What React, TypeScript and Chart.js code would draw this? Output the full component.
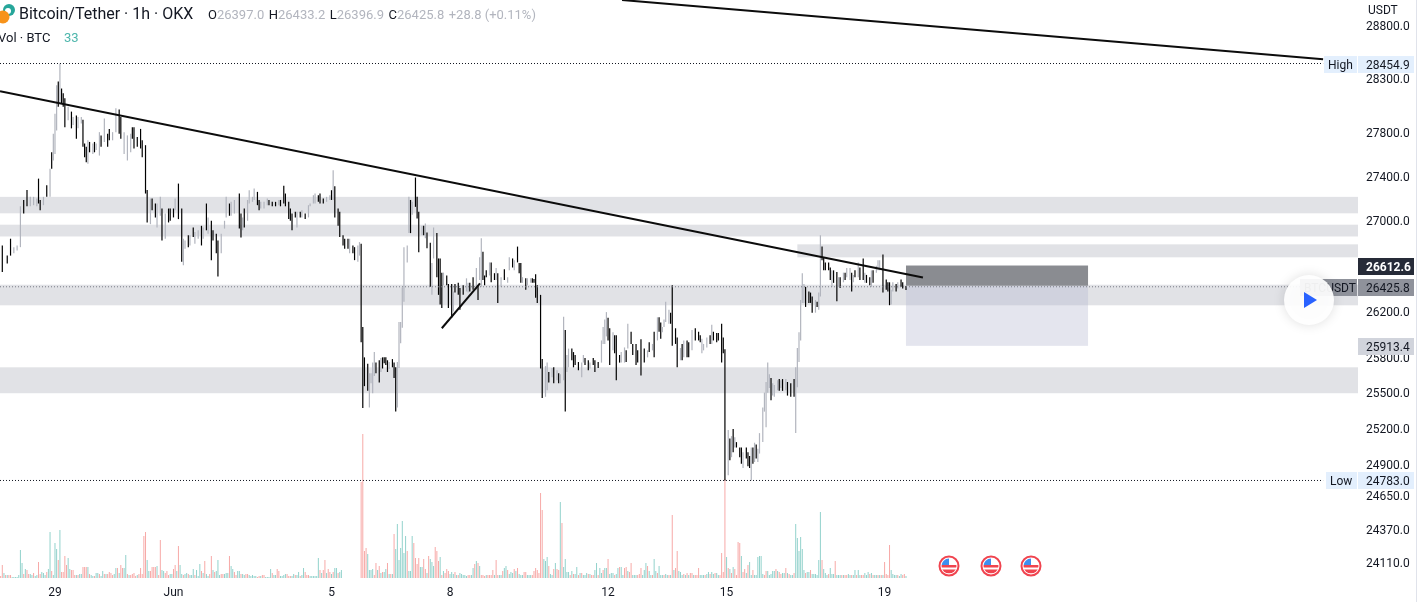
import { useRef, useEffect } from 'react';
import { Chart } from 'chart.js/auto';

// hours counted from 29 May 00:00, one visible candle per entry
const candleHours = [
  -32, -29, -27, -25, -23, -21, -19, -17, -15, -13,
  -11, -10, -9, -7, -5, -3, -2, -1, 0, 1,
  2, 3, 4, 5, 6, 8, 10, 11, 13, 14,
  16, 17, 18, 19, 20, 21, 23, 24, 25, 27,
  28, 30, 32, 33, 35, 37, 39, 40, 42, 44,
  46, 47, 48, 50, 52, 53, 55, 56, 58, 59,
  61, 62, 64, 65, 67, 69, 70, 72, 73, 75,
  77, 78, 79, 81, 82, 84, 85, 87, 89, 90,
  92, 93, 95, 96, 98, 99, 101, 103, 104, 106,
  107, 109, 112, 113, 114, 115, 117, 118, 120, 121,
  123, 124, 125, 127, 129, 130, 132, 134, 136, 137,
  139, 140, 142, 143, 144, 146, 147, 149, 150, 152,
  154, 155, 157, 158, 160, 161, 163, 165, 167, 168,
  169, 170, 172, 173, 175, 176, 178, 179, 181, 182,
  184, 185, 186, 187, 188, 190, 191, 192, 193, 194,
  195, 197, 198, 199, 200, 201, 202, 203, 205, 206,
  207, 208, 209, 210, 211, 212, 214, 215, 216, 217,
  219, 220, 221, 223, 224, 225, 226, 228, 229, 230,
  232, 233, 234, 235, 236, 238, 239, 241, 242, 243,
  245, 246, 248, 250, 251, 252, 254, 256, 257, 258,
  259, 260, 261, 262, 264, 265, 267, 268, 269, 271,
  273, 275, 276, 278, 279, 281, 282, 283, 284, 286,
  287, 289, 290, 291, 292, 293, 295, 296, 298, 299,
  300, 302, 303, 305, 306, 307, 309, 310, 311, 312,
  314, 315, 316, 318, 320, 321, 322, 324, 325, 327,
  328, 330, 332, 333, 334, 335, 336, 337, 339, 340,
  341, 343, 344, 346, 347, 348, 350, 351, 353, 354,
  356, 358, 360, 361, 363, 364, 366, 367, 368, 369,
  370, 371, 373, 374, 375, 377, 378, 380, 381, 382,
  384, 385, 387, 389, 391, 392, 393, 394, 396, 398,
  399, 400, 402, 403, 405, 406, 407, 409, 410, 411,
  412, 413, 414, 416, 417, 418, 420, 421, 422, 423,
  424, 425, 426, 427, 428, 430, 431, 432, 433, 434,
  435, 436, 437, 439, 440, 441, 442, 444, 445, 447,
  449, 450, 451, 452, 453, 454, 455, 456, 458, 459,
  460, 462, 463, 464, 465, 466, 467, 468, 470, 471,
  472, 473, 475, 476, 477, 479, 480, 481, 483, 484,
  485, 486, 488, 489, 491, 492, 493, 495, 496, 497,
  499, 500, 501, 503, 505, 506, 507, 508, 509, 511,
  512, 514, 515, 517,
];
const candleHighs = [
  26790, 26700, 26850, 26775, 26790, 27140, 27197, 27287, 27225, 27225,
  27210, 27390, 27197, 27225, 27330, 27480, 27630, 27800, 27985, 28250,
  28285, 28455, 28220, 28175, 28130, 28050, 28005, 27955, 27970, 27955,
  27955, 27930, 27710, 27680, 27740, 27725, 27710, 27725, 27710, 27815,
  27785, 27940, 27800, 27845, 27815, 28035, 28025, 27955, 27815, 27785,
  27800, 27860, 27860, 27770, 27845, 27740, 27695, 27287, 27210, 27210,
  27165, 27165, 27225, 27120, 27075, 27120, 27120, 27120, 27210, 27345,
  27120, 26850, 26835, 26880, 26880, 26950, 26910, 26925, 26965, 26950,
  27165, 27040, 27010, 26925, 26895, 26835, 26895, 27010, 27225, 27165,
  27180, 27197, 27255, 27075, 27040, 27120, 27197, 27285, 27225, 27300,
  27270, 27197, 27180, 27180, 27210, 27197, 27180, 27180, 27197, 27197,
  27325, 27255, 27180, 27120, 27075, 27090, 27090, 27090, 27105, 27075,
  27150, 27165, 27240, 27255, 27240, 27255, 27210, 27225, 27240, 27285,
  27465, 27320, 27120, 27090, 26880, 26850, 26850, 26850, 26790, 26775,
  26790, 26820, 26805, 26075, 25815, 25760, 25680, 25680, 25770, 25860,
  25770, 25790, 25810, 25815, 25815, 25815, 25790, 25775, 25800, 25770,
  25730, 25775, 26120, 26120, 26420, 26775, 26790, 27225, 27197, 27180,
  27400, 27225, 27090, 26965, 26965, 26985, 26905, 26815, 26635, 26950,
  26900, 26675, 26675, 26550, 26550, 26525, 26450, 26450, 26385, 26450,
  26460, 26415, 26440, 26500, 26460, 26460, 26510, 26590, 26440, 26685,
  26855, 26735, 26525, 26570, 26640, 26640, 26545, 26590, 26545, 26510,
  26580, 26510, 26685, 26675, 26660, 26780, 26635, 26635, 26510, 26500,
  26500, 26500, 26500, 26495, 26535, 26440, 26355, 25800, 25740, 25770,
  25690, 25725, 25730, 25705, 25680, 25670, 26165, 26050, 25835, 25890,
  25890, 25860, 25835, 25775, 25770, 25835, 25810, 25790, 25770, 25810,
  25790, 25775, 25960, 26075, 26140, 26205, 26155, 26065, 26030, 26005,
  26005, 25835, 25860, 25900, 25875, 26105, 26035, 25930, 25930, 25875,
  25970, 25890, 25875, 25945, 25930, 26035, 26160, 26160, 26115, 26075,
  26140, 26295, 26225, 26200, 26440, 26065, 25985, 25895, 25930, 25960,
  25960, 25945, 26050, 26065, 26035, 26005, 25975, 25930, 25985, 26005,
  26095, 26035, 26025, 26025, 26105, 25985, 25885, 25200, 25130, 25150,
  25210, 25140, 25100, 25055, 25055, 25015, 25055, 25015, 24985, 25055,
  25055, 25095, 25080, 25045, 25175, 25390, 25515, 25605, 25770, 25670,
  25640, 25595, 25580, 25620, 25630, 25620, 25630, 25630, 25605, 25595,
  25630, 25730, 25895, 26030, 26310, 26545, 26450, 26425, 26385, 26375,
  26340, 26310, 26295, 26375, 26880, 26780, 26685, 26640, 26640, 26595,
  26570, 26570, 26555, 26510, 26510, 26550, 26550, 26590, 26590, 26550,
  26530, 26570, 26640, 26595, 26675, 26550, 26530, 26510, 26570, 26570,
  26610, 26660, 26660, 26710, 26490, 26465, 26465, 26400, 26465, 26450,
  26465, 26490, 26465, 26433,
];
const candleLows = [
  26555, 26630, 26700, 26720, 26745, 26775, 27075, 27140, 27140, 27150,
  27140, 27165, 27105, 27150, 27225, 27225, 27480, 27555, 27615, 27830,
  28050, 28080, 28080, 28050, 27860, 27925, 27850, 27880, 27755, 27850,
  27895, 27680, 27585, 27540, 27525, 27630, 27615, 27630, 27650, 27600,
  27680, 27725, 27680, 27740, 27740, 27815, 27800, 27755, 27615, 27555,
  27630, 27755, 27665, 27680, 27665, 27585, 27255, 26995, 26980, 27105,
  27040, 26950, 27055, 26835, 26850, 26995, 27010, 27040, 27105, 27025,
  26645, 26615, 26760, 26775, 26790, 26865, 26805, 26850, 26790, 26850,
  26925, 26895, 26660, 26835, 26720, 26515, 26720, 26940, 27040, 27055,
  27055, 27075, 26940, 26860, 26925, 26950, 27010, 27165, 27180, 27197,
  27150, 27105, 27120, 27120, 27150, 27150, 27140, 27140, 27150, 27140,
  27165, 27140, 27025, 27010, 26925, 27040, 26950, 27040, 27040, 27025,
  27040, 27140, 27165, 27165, 27180, 27165, 27165, 27180, 27197, 27197,
  27197, 27040, 26965, 26865, 26790, 26760, 26760, 26720, 26720, 26660,
  26645, 26700, 25945, 25385, 25570, 25530, 25390, 25595, 25510, 25655,
  25680, 25600, 25690, 25720, 25765, 25750, 25690, 25715, 25730, 25640,
  25355, 25390, 25725, 25935, 26070, 26295, 26640, 26900, 26900, 27065,
  27135, 27030, 26730, 26880, 26880, 26855, 26765, 26425, 26355, 26675,
  26510, 26355, 26270, 26240, 26440, 26440, 26240, 26155, 26210, 26375,
  26355, 26225, 26355, 26385, 26375, 26385, 26400, 26400, 26310, 26485,
  26425, 26485, 26440, 26510, 26525, 26465, 26485, 26485, 26285, 26425,
  26485, 26460, 26570, 26595, 26570, 26640, 26545, 26460, 26460, 26400,
  26440, 26460, 26460, 26460, 26330, 26285, 25720, 25470, 25480, 25535,
  25600, 25645, 25595, 25620, 25595, 25595, 25620, 25355, 25690, 25730,
  25790, 25730, 25750, 25705, 25645, 25770, 25750, 25705, 25720, 25750,
  25690, 25725, 25770, 25930, 25930, 25995, 25960, 25750, 25875, 25850,
  25620, 25770, 25770, 25770, 25775, 25890, 25930, 25835, 25750, 25770,
  25660, 25770, 25815, 25860, 25875, 25815, 25960, 26035, 25975, 26030,
  26075, 26120, 26105, 26105, 25915, 25930, 25730, 25790, 25790, 25815,
  25815, 25815, 25875, 25960, 25960, 25945, 25850, 25875, 25900, 25930,
  25930, 25960, 25945, 25960, 25770, 25850, 24783, 24825, 24950, 24975,
  25015, 25055, 25055, 24975, 24920, 24885, 24965, 24900, 24885, 24783,
  24920, 24935, 24965, 24935, 25005, 25100, 25355, 25225, 25515, 25555,
  25450, 25490, 25480, 25535, 25530, 25555, 25530, 25535, 25490, 25480,
  25480, 25175, 25560, 25775, 25960, 26285, 26285, 26250, 26285, 26285,
  26200, 26200, 26250, 26225, 26340, 26660, 26570, 26570, 26570, 26485,
  26425, 26460, 26300, 26425, 26415, 26465, 26485, 26510, 26485, 26385,
  26465, 26510, 26510, 26485, 26485, 26460, 26460, 26440, 26425, 26460,
  26550, 26570, 26570, 26375, 26400, 26385, 26265, 26270, 26385, 26385,
  26410, 26425, 26410, 26397,
];
// u = closed up (grey), d = closed down (black)
const candleDirs = [
  'ddduuudduu', 'uddududuuu', 'dudddududu', 'udddududuu', 'dudduudduu',
  'udddddddud', 'duududddud', 'duududuudu', 'dudddduuud', 'uudduduuuu',
  'dduuudddud', 'ddddddudud', 'uuuuddduud', 'uddddddudd', 'uudddduuuu',
  'dduddddudd', 'duuuuuuudu', 'dddududduu', 'ddddudddud', 'ddduuddudu',
  'uddduddudu', 'duududddud', 'uudddddduu', 'dududuuduu', 'dddduuddud',
  'dduuuuddud', 'dduududddd', 'ddudududdu', 'uuuddddudu', 'dduddduuud',
  'uddddddudu', 'dudddudddu', 'duduuuuuuu', 'duuudududd', 'duuuuuuddd',
  'duduuddddd', 'uddududuud', 'ududduddud', 'uuudddduud', 'uddd',
].join('');
// signed volumes in BTC: positive closed up, negative closed down, runs start at volumeStarts hour
const volA = [
  -20, -130, 50, -30, 30, -30, -30, 10, 10, 10, 10, 30, 280, 150, -40, 90, -80, -40, 40, 30, -50, 20, 30, -160, -40, 60, 50, 30, -60, 90,
  460, -70, 30, 350, 290, -180, 480, -60, -60, -220, -130, 200, 90, -80, -80, -30, 30, -30, 40, 40, -110, -110, -110, 110, -40, 30, 20, -20, 50, 50,
  -40, 20, 70, -40, 40, -40, -60, -50, -30, 40, 100, -100, 50, -130, -100, 100, 230, -40, 30, -30, -40, -50, -20, 30, -40, -100, -40, -420, -460, 180,
  70, -70, -110, -110, -110, 120, -30, -380, 80, 70, -50, -70, -30, 40, 40, -90, -130, 70, -320, 130, 40, -30, 40, 50, -40, 30, 30, 90, -30, 80,
  20, 140, -70, 50, -170, 40, 20, -40, -220, 80, -60, 70, 180, 30, -40, -40, 40, 50, 50, -220, 120, 90, -60, -30, 70, 70, -40, 40, 30, -40,
  -40, 30, 20, 30, 20, 20, -10, -20, 20, -30, -30, 10, 10, 10, 90, -50, 30, 30, -90, -70, 20, 20, 30, 40, -40, -20, -20, 20, 40, -30,
  30, 60, -20, 30, 100, -60, -30, -30, 20, 20, 20, 20, 20, 200, -80, 50, -80, -180, 50, -90, -60, 40, -60, 100, 100, -50, 60, 80,
];
const volB = [
  -960, -1440, -270, -300, 240, 80, 80, 90, -30, -150, 80, -120, 50, -60, 60, 90, -150, 40, -40, 40, -440, 290, 540, 180, 300, 570, 250, 420, -270, 70,
  70, 420, -350, -200, -140, -200, 110, 110, -190, -90, 50, -220, 190, 160, 120, -310, -270, -170, 210, -30, 70, -50, -90, -70, 40, 60, 40, -60, 30, -30,
  50, 40, 30, 30, 20, -30,
];
const volC = [
  -30, 30, 100, -140, 170, -150, 120, -30, -30, -20, 30, -30, -30, -30, -80, 30, -180, -30, 30, 30, -70, 100, 120, -80, 40, 60, 50, -90, 70, -100,
  40, 30, 30, -60, -60, 30, 30, 30, -30, -70, -100, -80, -50,
];
const volD = [
  -850, -680, 190, 170, 210, -120, 40, 30, -90, 150, -90, -80, 760, -550, 110, 190, 60, 60, -30, 70, -40, 40, 110, -30, 50, -50, 30, 30, 50, -40,
  40, -30, -30, 80, 150, -30, 100, 50, -80, 100, 100, -190, 40, 50, 50, -30, 40, 100, -110, 110, 30, -100, -110, 70, -60, -150, 30, 30, 30, -30,
  -40, -100, 30, 80, 150, -120, 70, 30, -30, 190, 70, -50, 120, 30, 30, -30, 40, 30, -30, 30,
];
const volE = [
  -630, 80, -100, -270, 70, 60, 30, -40, 30, -50, 30, -50, -50, 30, -30, -30, -100, 30, 30, 30, -30, 40, 60, -40, 60, 40, -50, 50, 30, -30,
];
const volF = [
  -250, -60, -990, 210, -100, 90, -50, 110, -90, -30, -360, -350, 220, -60, -90, 50, -130, 160, 30, -80, 30, 30, 210, 220, 220, 40, -30, -70, 70, 30,
  40, 70, 70, -90, 70, -60, -40, 50, 50, -100, 50, -40, 30, 30, -50,
];
const volG = [
  540, 400, 270, 410, 290, 80, -50, 60, 60, -80, 40, 40, 40, 30, 180, 660, -180, 90, 50, 30, -40, 100, 40, 40, -170, 30, 30, 30, -30, 30,
  -30, -30, 40, 30, -30, 30, 80, -30, 80, 30, -30, -30, 50, 30, 60, -40, 50, -30, 30, 30, -30, 30, -30, 30, -160, -40, -30, -330, 80, 40,
  30, 30, -30, 20, 40, -30, -40, 20,
];
const volumeStarts = [-33, 186, 252, 295, 375, 405, 450];
const volumeRuns = [volA, volB, volC, volD, volE, volF, volG];

const priceTicks = [28800, 28300, 27800, 27400, 27000, 26200, 25800, 25500, 25200, 24900, 24650, 24370, 24110];
const timeTicks = [0, 72, 168, 240, 336, 408, 504];
const timeLabels = ['29', 'Jun', '5', '8', '12', '15', '19'];

const bandTops = [27225, 26975, 26800, 26444, 25730];
const bandBottoms = [27077, 26870, 26685, 26264, 25510];
const bandStarts = [-34, -34, 451, -34, -34];

const fontName = 'Roboto';
const xMin = -33.4;
const xMax = 791.6;
const lastPrice = 26425.8;
const stopPrice = 26612.6;
const targetPrice = 25913.4;
const boxEntry = 26435;
const boxStart = 517;
const boxEnd = 627.6;

const lineSet = (data: any, color: string, width: number, dash: number[] = []) => ({
  type: 'line', data, borderColor: color, borderWidth: width, borderDash: dash,
  pointRadius: 0, fill: false, tension: 0, order: 1, xAxisID: 'x', yAxisID: 'y',
});

const drawFlag = (ctx: any, cx: number, cy: number) => {
  ctx.save();
  ctx.beginPath();
  ctx.arc(cx, cy, 9.5, 0, Math.PI * 2);
  ctx.fillStyle = '#fff';
  ctx.fill();
  ctx.strokeStyle = '#f0444f';
  ctx.lineWidth = 2;
  ctx.stroke();
  ctx.beginPath();
  ctx.arc(cx, cy, 7.5, 0, Math.PI * 2);
  ctx.clip();
  ctx.fillStyle = '#f0444f';
  ctx.fillRect(cx - 8, cy - 1, 16, 2.5);
  ctx.fillRect(cx - 8, cy + 3.5, 16, 4);
  ctx.fillStyle = '#3d8ff0';
  ctx.fillRect(cx - 8, cy - 8, 8, 7);
  ctx.restore();
};

const overlay = {
  id: 'overlay',
  beforeDatasetsDraw(chart: any) {
    const { ctx, scales, chartArea } = chart;
    const xp = (v: number) => scales.x.getPixelForValue(v);
    const yp = (v: number) => scales.y.getPixelForValue(v);
    ctx.save();
    ctx.fillStyle = '#e1e2e6';
    bandTops.forEach((top, i) => {
      const x0 = Math.max(xp(bandStarts[i]), 0);
      ctx.fillRect(x0, yp(top), chartArea.right - x0, yp(bandBottoms[i]) - yp(top));
    });
    ctx.fillStyle = 'rgba(178,181,206,0.35)';
    ctx.fillRect(xp(boxStart), yp(boxEntry), xp(boxEnd) - xp(boxStart), yp(targetPrice) - yp(boxEntry));
    ctx.fillStyle = '#8a8c91';
    ctx.fillRect(xp(boxStart), yp(stopPrice), xp(boxEnd) - xp(boxStart), yp(boxEntry) - yp(stopPrice));
    ctx.restore();
  },
  afterDraw(chart: any) {
    const { ctx, scales, chartArea } = chart;
    const yp = (v: number) => scales.y.getPixelForValue(v);
    const right = chartArea.right;
    const tag = (x: number, w: number, price: number, fill: string, text: string, color: string, bold = false) => {
      const y = Math.round(yp(price));
      ctx.fillStyle = fill;
      ctx.fillRect(x, y - 8, w, 17);
      ctx.fillStyle = color;
      ctx.font = `${bold ? 'bold ' : ''}12px ${fontName}`;
      ctx.textAlign = 'left';
      ctx.textBaseline = 'alphabetic';
      ctx.fillText(text, x + (x >= right ? 8 : 4), y + 5);
    };
    ctx.save();
    tag(1358, 56, 28454.9, '#e3effd', '28454.9', '#131722');
    tag(1324, 33, 28454.9, '#e3effd', 'High', '#131722');
    tag(1358, 56, 24783, '#e3effd', '24783.0', '#131722');
    tag(1326, 31, 24783, '#e3effd', 'Low', '#131722');
    tag(1358, 56, stopPrice, '#262b38', '26612.6', '#ffffff', true);
    tag(1358, 56, lastPrice, '#8f929b', '26425.8', '#131722');
    tag(1300, 57, lastPrice, '#8f929b', 'BTCUSDT', '#131722');
    tag(1358, 56, targetPrice, '#d1d4dc', '25913.4', '#131722');

    // play button
    ctx.save();
    ctx.shadowColor = 'rgba(0,0,0,0.14)';
    ctx.shadowBlur = 12;
    ctx.fillStyle = 'rgba(255,255,255,0.93)';
    ctx.beginPath();
    ctx.arc(1309, 300, 25, 0, Math.PI * 2);
    ctx.fill();
    ctx.restore();
    ctx.fillStyle = '#2962ff';
    ctx.beginPath();
    ctx.moveTo(1304, 292);
    ctx.lineTo(1317, 300);
    ctx.lineTo(1304, 308);
    ctx.closePath();
    ctx.fill();

    [949, 991, 1031].forEach((x) => drawFlag(ctx, x, 566));

    // symbol icon
    ctx.fillStyle = '#26a69a';
    ctx.beginPath();
    ctx.arc(9, 10, 6, 0, Math.PI * 2);
    ctx.fill();
    ctx.fillStyle = '#fff';
    ctx.beginPath();
    ctx.arc(8, 11, 3, 0, Math.PI * 2);
    ctx.fill();
    ctx.fillStyle = '#f7931a';
    ctx.beginPath();
    ctx.arc(3, 17, 6.5, 0, Math.PI * 2);
    ctx.fill();

    // header texts
    ctx.textAlign = 'left';
    ctx.textBaseline = 'alphabetic';
    ctx.fillStyle = '#131722';
    ctx.font = `16px ${fontName}`;
    ctx.fillText('Bitcoin/Tether · 1h · OKX', 19, 19);
    ctx.font = `13px ${fontName}`;
    let hx = 208;
    [['O', '26397.0'], ['H', '26433.2'], ['L', '26396.9'], ['C', '26425.8']].forEach(([k, v]) => {
      ctx.fillStyle = '#131722';
      ctx.fillText(k, hx, 19);
      hx += ctx.measureText(k).width;
      ctx.fillStyle = '#b2b5be';
      ctx.fillText(v, hx, 19);
      hx += ctx.measureText(v).width + 4.5;
    });
    ctx.fillText('+28.8 (+0.11%)', hx, 19);
    ctx.fillStyle = '#131722';
    ctx.fillText('Vol · BTC', -2, 42);
    ctx.fillStyle = '#4db6ac';
    ctx.fillText('33', 64, 42);
    ctx.fillStyle = '#131722';
    ctx.font = `12px ${fontName}`;
    ctx.fillText('USDT', 1368, 14);
    ctx.restore();
  },
};

const App = () => {
  const canvasRef = useRef<HTMLCanvasElement>(null);
  const chartRef = useRef<any>(null);

  useEffect(() => {
    document.body.style.margin = '0';
    if (!canvasRef.current) return;
    if (chartRef.current) chartRef.current.destroy();

    const volumePoints: any[] = [];
    const volumeColors: string[] = [];
    volumeRuns.forEach((run, r) => {
      run.forEach((v, i) => {
        volumePoints.push({ x: volumeStarts[r] + i, y: Math.abs(v) });
        volumeColors.push(v > 0 ? '#92d2cc' : '#f7a9a7');
      });
    });

    chartRef.current = new Chart(canvasRef.current, {
      type: 'bar',
      data: {
        datasets: [
          lineSet([{ x: xMin, y: 28195 }, { x: 527.3, y: 26508 }], '#0c0c0c', 2),
          lineSet([{ x: 344.5, y: 29060 }, { x: 770.4, y: 28496 }], '#0c0c0c', 2),
          lineSet([{ x: 235, y: 26065 }, { x: 258.2, y: 26456 }], '#0c0c0c', 2),
          lineSet([{ x: xMin, y: 28454.9 }, { x: 770.4, y: 28454.9 }], '#131722', 1, [1, 2]),
          lineSet([{ x: xMin, y: 24783 }, { x: 770.4, y: 24783 }], '#131722', 1, [1, 2]),
          lineSet([{ x: xMin, y: lastPrice }, { x: 756.6, y: lastPrice }], '#787b86', 1, [1, 2]),
          {
            data: candleHours.map((h, i) => ({ x: h, y: [candleLows[i], candleHighs[i]] })),
            backgroundColor: candleHours.map((_, i) => (candleDirs[i] === 'u' ? '#b2b5be' : '#000000')),
            barThickness: 1.2,
            grouped: false,
            inflateAmount: 0,
            order: 2,
            xAxisID: 'x',
            yAxisID: 'y',
          },
          {
            data: volumePoints,
            backgroundColor: volumeColors,
            barThickness: 1,
            grouped: false,
            inflateAmount: 0,
            order: 3,
            xAxisID: 'x',
            yAxisID: 'yVol',
          },
        ] as any,
      },
      options: {
        responsive: false,
        animation: false,
        layout: { padding: 0 },
        plugins: { legend: { display: false }, tooltip: { enabled: false }, title: { display: false } },
        scales: {
          x: {
            type: 'linear',
            min: xMin,
            max: xMax,
            offset: false,
            grid: { display: false, drawTicks: false },
            border: { display: false },
            afterBuildTicks: (axis: any) => { axis.ticks = timeTicks.map((value) => ({ value })); },
            afterFit: (axis: any) => {
              axis.height = 24;
              axis.paddingLeft = 0;
              axis.paddingRight = 0;
            },
            ticks: {
              autoSkip: false,
              maxRotation: 0,
              padding: 8,
              color: '#131722',
              font: { family: fontName, size: 12 },
              callback: (v: any) => timeLabels[timeTicks.indexOf(v)],
            },
          },
          y: {
            type: 'logarithmic',
            position: 'right',
            bounds: 'data',
            min: 23995,
            max: 29060,
            grid: { display: false, drawTicks: false },
            border: { display: false },
            afterBuildTicks: (axis: any) => { axis.ticks = priceTicks.map((value) => ({ value })); },
            afterFit: (axis: any) => {
              axis.width = 58;
              axis.paddingTop = 0;
              axis.paddingBottom = 0;
            },
            ticks: {
              autoSkip: false,
              padding: 8,
              color: '#131722',
              font: { family: fontName, size: 12 },
              callback: (v: any) => Number(v).toFixed(1),
            },
          },
          yVol: { type: 'linear', display: false, min: 0, max: 5780 },
        },
      } as any,
      plugins: [overlay],
    });

    return () => { if (chartRef.current) chartRef.current.destroy(); };
  }, []);

  return (
    <div style={{ position: 'relative', width: 1417, height: 602, background: '#e0e3eb', overflow: 'hidden' }}>
      <canvas ref={canvasRef} width={1416} height={602} style={{ display: 'block', background: '#fff' }}></canvas>
    </div>
  );
};

export default App;
